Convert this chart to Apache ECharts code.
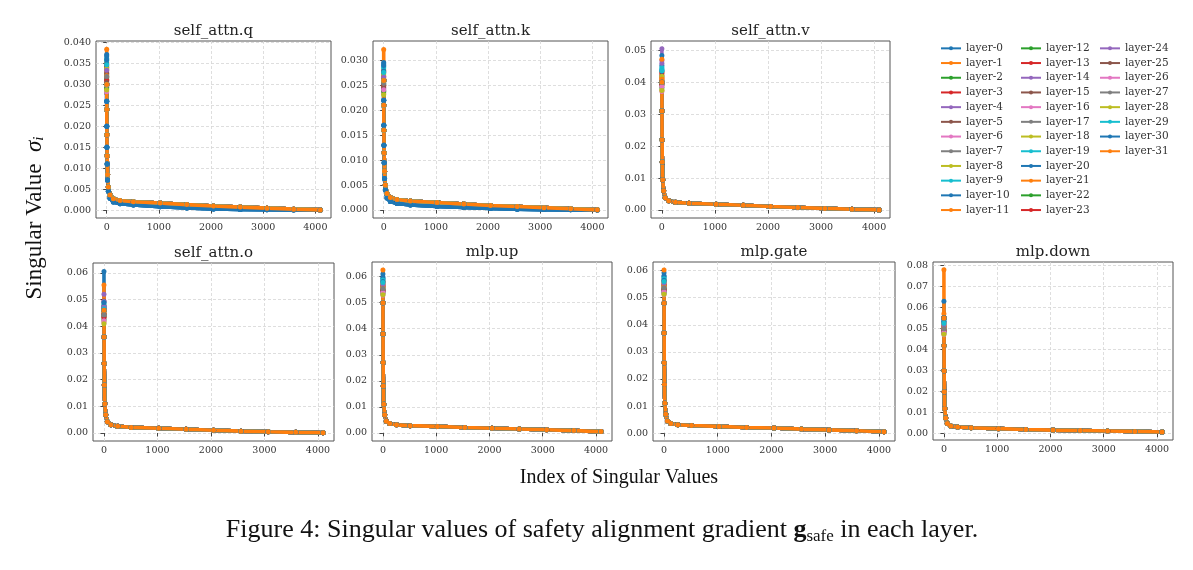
<!DOCTYPE html>
<html>
<head>
<meta charset="utf-8">
<title>Singular values of safety alignment gradient</title>
<script src="https://cdn.jsdelivr.net/npm/echarts@6/dist/echarts.min.js"></script>
<style>
  html, body { margin: 0; padding: 0; background: #fff; }
  #main { width: 1193px; height: 570px; }
</style>
</head>
<body>
<div id="main"></div>
<script>
// layer names (legend)
var layers = [];
for (var n = 0; n < 32; n++) layers.push('layer-' + n);

// sampled singular value indices
var idx = [0, 1, 2, 4, 8, 16, 32, 64, 128, 256, 512, 1024, 1536, 2048, 2560, 3072, 3584, 4095];

// x ticks shared by all panels
var xTicks = [0, 1000, 2000, 3000, 4000];

// self_attn.q
var qPeak = [0.0372, 0.0352, 0.0318, 0.0335, 0.0296, 0.0341, 0.0307, 0.0324, 0.0289, 0.0362, 0.0368, 0.0330, 0.0312, 0.0345, 0.0301, 0.0327,
             0.0283, 0.0316, 0.0338, 0.0357, 0.0349, 0.0321, 0.0293, 0.0310, 0.0334, 0.0305, 0.0298, 0.0319, 0.0287, 0.0347, 0.0359, 0.0384];
var qHi = [0.030, 0.024, 0.018, 0.013, 0.0085, 0.0055, 0.0036, 0.0027, 0.0023, 0.0020, 0.0017, 0.0013, 0.00095, 0.0007, 0.00045, 0.00022, 0.00003];
var qLo = [0.026, 0.020, 0.015, 0.011, 0.0072, 0.0045, 0.0028, 0.0019, 0.0015, 0.0012, 0.0008, 0.0005, 0.00028, 0.00015, 0.00006, 0.00002, 0.0];
var qTicks = [0, 0.005, 0.010, 0.015, 0.020, 0.025, 0.030, 0.035, 0.040];

// self_attn.k
var kPeak = [0.0296, 0.0281, 0.0252, 0.0268, 0.0240, 0.0275, 0.0247, 0.0259, 0.0233, 0.0288, 0.0293, 0.0264, 0.0250, 0.0278, 0.0243, 0.0262,
             0.0236, 0.0255, 0.0271, 0.0285, 0.0279, 0.0257, 0.0238, 0.0249, 0.0267, 0.0245, 0.0241, 0.0254, 0.0231, 0.0276, 0.0290, 0.0322];
var kHi = [0.026, 0.021, 0.016, 0.0115, 0.0078, 0.0050, 0.0033, 0.0025, 0.0021, 0.0018, 0.0015, 0.0012, 0.0009, 0.0007, 0.00048, 0.00025, 0.00003];
var kLo = [0.022, 0.017, 0.013, 0.0095, 0.0063, 0.0040, 0.0024, 0.0017, 0.0013, 0.0010, 0.0007, 0.0005, 0.0003, 0.00018, 0.00008, 0.00003, 0.0];
var kTicks = [0, 0.005, 0.010, 0.015, 0.020, 0.025, 0.030];

// self_attn.v
var vPeak = [0.0452, 0.0431, 0.0398, 0.0415, 0.0505, 0.0421, 0.0389, 0.0407, 0.0376, 0.0446, 0.0438, 0.0412, 0.0394, 0.0427, 0.0468, 0.0403,
             0.0371, 0.0396, 0.0419, 0.0441, 0.0434, 0.0409, 0.0383, 0.0392, 0.0459, 0.0401, 0.0386, 0.0399, 0.0374, 0.0436, 0.0484, 0.0472];
var vCurve = [0.040, 0.031, 0.022, 0.015, 0.0095, 0.0060, 0.0038, 0.0029, 0.0024, 0.0021, 0.0018, 0.0015, 0.0011, 0.0008, 0.0005, 0.00025, 0.00003];

// self_attn.o
var oPeak = [0.0605, 0.0478, 0.0441, 0.0462, 0.0520, 0.0495, 0.0432, 0.0455, 0.0418, 0.0487, 0.0471, 0.0449, 0.0436, 0.0468, 0.0493, 0.0445,
             0.0412, 0.0439, 0.0458, 0.0481, 0.0475, 0.0451, 0.0425, 0.0434, 0.0474, 0.0447, 0.0421, 0.0442, 0.0409, 0.0466, 0.0489, 0.0555];
var oCurve = [0.046, 0.036, 0.026, 0.018, 0.011, 0.0068, 0.0042, 0.0031, 0.0025, 0.0021, 0.0018, 0.0014, 0.0010, 0.0007, 0.00045, 0.00025, 0.00008];

// mlp.up
var upPeak = [0.0598, 0.0583, 0.0552, 0.0569, 0.0541, 0.0575, 0.0547, 0.0561, 0.0533, 0.0590, 0.0594, 0.0566, 0.0550, 0.0579, 0.0544, 0.0563,
              0.0528, 0.0557, 0.0572, 0.0587, 0.0581, 0.0559, 0.0537, 0.0548, 0.0571, 0.0545, 0.0539, 0.0554, 0.0530, 0.0577, 0.0610, 0.0625];
var upCurve = [0.050, 0.038, 0.027, 0.018, 0.011, 0.0070, 0.0045, 0.0036, 0.0031, 0.0028, 0.0025, 0.0021, 0.0018, 0.0015, 0.0012, 0.0009, 0.0005];

// mlp.gate
var gatePeak = [0.0581, 0.0567, 0.0536, 0.0552, 0.0522, 0.0559, 0.0530, 0.0544, 0.0515, 0.0574, 0.0578, 0.0549, 0.0533, 0.0562, 0.0526, 0.0546,
                0.0511, 0.0540, 0.0556, 0.0570, 0.0565, 0.0542, 0.0519, 0.0531, 0.0554, 0.0528, 0.0521, 0.0537, 0.0513, 0.0560, 0.0592, 0.0602];
var gateCurve = [0.048, 0.037, 0.026, 0.018, 0.011, 0.0070, 0.0045, 0.0036, 0.0031, 0.0028, 0.0025, 0.0021, 0.0019, 0.0015, 0.0012, 0.0009, 0.0005];

// mlp.down
var downPeak = [0.0532, 0.0571, 0.0498, 0.0515, 0.0484, 0.0522, 0.0491, 0.0507, 0.0476, 0.0546, 0.0630, 0.0511, 0.0494, 0.0528, 0.0487, 0.0509,
                0.0471, 0.0502, 0.0519, 0.0538, 0.0535, 0.0504, 0.0480, 0.0493, 0.0517, 0.0489, 0.0482, 0.0499, 0.0473, 0.0525, 0.0551, 0.0780];
var downCurve = [0.055, 0.042, 0.030, 0.020, 0.012, 0.0075, 0.0048, 0.0037, 0.0032, 0.0028, 0.0024, 0.0020, 0.0017, 0.0015, 0.0013, 0.0011, 0.0008];

var pTicks = [0, 0.01, 0.02, 0.03, 0.04, 0.05];
var p6Ticks = [0, 0.01, 0.02, 0.03, 0.04, 0.05, 0.06];
var p8Ticks = [0, 0.01, 0.02, 0.03, 0.04, 0.05, 0.06, 0.07, 0.08];

// layers that sit on the lower band in q / k
var lowLayers = [0, 10, 20, 30];

// matplotlib tab10
var tab10 = ['#1f77b4', '#ff7f0e', '#2ca02c', '#d62728', '#9467bd', '#8c564b', '#e377c2', '#7f7f7f', '#bcbd22', '#17becf'];

var serif = '"DejaVu Serif", serif';
var times = '"Liberation Serif", "Times New Roman", serif';

var panels = [
    { title: 'self_attn.q', peak: qPeak, hi: qHi, lo: qLo, ticks: qTicks, dec: 3, ymin: -0.0019, ymax: 0.0404, rect: [96, 41, 235, 177] },
    { title: 'self_attn.k', peak: kPeak, hi: kHi, lo: kLo, ticks: kTicks, dec: 3, ymin: -0.0016, ymax: 0.0339, rect: [373, 41, 235, 177] },
    { title: 'self_attn.v', peak: vPeak, hi: vCurve, ticks: pTicks, dec: 2, ymin: -0.0025, ymax: 0.0529, rect: [651, 41, 239, 177] },
    { title: 'self_attn.o', peak: oPeak, hi: oCurve, ticks: p6Ticks, dec: 2, ymin: -0.0030, ymax: 0.0637, rect: [93, 263, 241, 178] },
    { title: 'mlp.up', peak: upPeak, hi: upCurve, ticks: p6Ticks, dec: 2, ymin: -0.0031, ymax: 0.0656, rect: [372, 262, 240, 179] },
    { title: 'mlp.gate', peak: gatePeak, hi: gateCurve, ticks: p6Ticks, dec: 2, ymin: -0.0029, ymax: 0.0632, rect: [653, 262, 242, 179] },
    { title: 'mlp.down', peak: downPeak, hi: downCurve, ticks: p8Ticks, dec: 2, ymin: -0.0030, ymax: 0.0817, rect: [933, 262, 240, 178] }
];

var grids = [], xAxes = [], yAxes = [], series = [], graphics = [];

panels.forEach(function (p, pi) {
    var r = p.rect;
    grids.push({
        left: r[0], top: r[1], width: r[2], height: r[3],
        show: true, borderColor: '#555', borderWidth: 1, backgroundColor: '#fff'
    });
    xAxes.push({
        gridIndex: pi, type: 'value', min: -205, max: 4300,
        axisLine: { show: false },
        axisTick: { show: true, length: 3.5, lineStyle: { color: '#444' }, customValues: xTicks },
        axisLabel: {
            customValues: xTicks, margin: 5, fontFamily: serif, fontSize: 9.5, color: '#333',
            formatter: function (v) { return String(v); }
        },
        splitLine: { show: true, lineStyle: { color: '#d6d6d6', type: [3, 2], width: 0.8 } }
    });
    yAxes.push({
        gridIndex: pi, type: 'value', min: p.ymin, max: p.ymax,
        axisLine: { show: false },
        axisTick: { show: true, length: 3.5, lineStyle: { color: '#444' }, customValues: p.ticks },
        axisLabel: {
            customValues: p.ticks, margin: 5, fontFamily: serif, fontSize: 9.5, color: '#333',
            formatter: (function (d) { return function (v) { return Number(v).toFixed(d); }; })(p.dec)
        },
        splitLine: { show: true, lineStyle: { color: '#d6d6d6', type: [3, 2], width: 0.8 } }
    });

    // one line per layer
    layers.forEach(function (name, l) {
        var curve = (p.lo && lowLayers.indexOf(l) >= 0) ? p.lo : p.hi;
        var data = idx.map(function (x, i) {
            return [x, i === 0 ? p.peak[l] : curve[i - 1]];
        });
        series.push({
            name: name, type: 'line', xAxisIndex: pi, yAxisIndex: pi,
            data: data,
            symbol: 'circle', symbolSize: 5, showSymbol: true,
            color: tab10[l % 10],
            lineStyle: { width: 3.6 },
            animation: false, silent: true
        });
    });

    graphics.push({
        type: 'text', x: r[0] + r[2] / 2, y: r[1] - 10,
        style: { text: p.title, font: '15px ' + serif, fill: '#222', align: 'center', verticalAlign: 'middle' }
    });
});

// figure-level labels
graphics.push({
    type: 'text', x: 35, y: 218, rotation: Math.PI / 2,
    style: {
        text: '{a|Singular Value  }{b|σ}{c|i}',
        align: 'center', verticalAlign: 'middle', fill: '#111',
        rich: {
            a: { fontFamily: times, fontSize: 23, fill: '#111' },
            b: { fontFamily: times, fontSize: 23, fontStyle: 'italic', fill: '#111' },
            c: { fontFamily: times, fontSize: 15, fontStyle: 'italic', fill: '#111', verticalAlign: 'bottom' }
        }
    }
});
graphics.push({
    type: 'text', x: 619, y: 478,
    style: { text: 'Index of Singular Values', font: '20px ' + times, fill: '#111', align: 'center', verticalAlign: 'middle' }
});
graphics.push({
    type: 'text', x: 602, y: 530,
    style: {
        text: '{a|Figure 4: Singular values of safety alignment gradient }{b|g}{c|safe}{a| in each layer.}',
        align: 'center', verticalAlign: 'middle', fill: '#111',
        rich: {
            a: { fontFamily: times, fontSize: 26, lineHeight: 30, fill: '#111' },
            b: { fontFamily: times, fontSize: 26, lineHeight: 30, fontWeight: 'bold', fill: '#111' },
            c: { fontFamily: times, fontSize: 17, fill: '#111', verticalAlign: 'bottom' }
        }
    }
});

// legend in three columns
function legendCol(left, names) {
    return {
        orient: 'vertical', left: left, top: 36, data: names,
        selectedMode: false, itemWidth: 20, itemHeight: 5, itemGap: 0,
        lineStyle: { width: 2 },
        textStyle: { fontFamily: serif, fontSize: 10.5, color: '#333', lineHeight: 14.7 }
    };
}

var option = {
    backgroundColor: '#fff',
    animation: false,
    grid: grids,
    xAxis: xAxes,
    yAxis: yAxes,
    legend: [
        legendCol(935, layers.slice(0, 12)),
        legendCol(1015, layers.slice(12, 24)),
        legendCol(1094, layers.slice(24, 32))
    ],
    graphic: graphics,
    series: series
};

var chart = echarts.init(document.getElementById('main'), null, { renderer: 'canvas' });
chart.setOption(option);
</script>
</body>
</html>
